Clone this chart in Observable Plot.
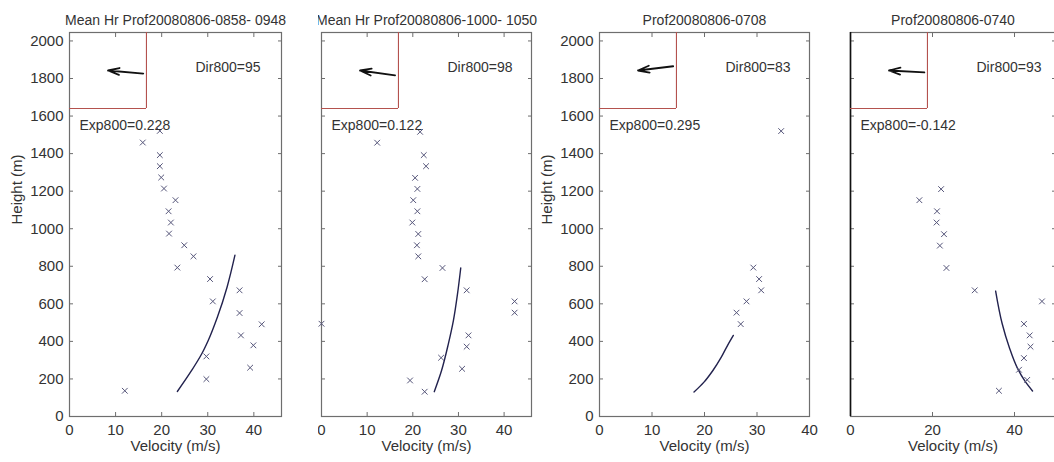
<!DOCTYPE html>
<html>
<head>
<meta charset="utf-8">
<script src="https://cdn.jsdelivr.net/npm/d3@7"></script>
<script src="https://cdn.jsdelivr.net/npm/@observablehq/plot@0.6"></script>
<style>
  html, body { margin: 0; padding: 0; background: #fff; overflow: hidden; }
  #chart { position: relative; width: 1054px; height: 462px; overflow: hidden; }
  #chart svg { position: absolute; top: 0; max-width: none; }
</style>
</head>
<body>
<div id="chart"></div>
<script>
// Profile titles, 800 m wind direction and power-law exponent for each panel
const titles = [
  "Mean Hr Prof20080806-0858- 0948",
  "Mean Hr Prof20080806-1000- 1050",
  "Prof20080806-0708",
  "Prof20080806-0740"
];
const dir800 = [95, 98, 83, 93];
const exp800 = ["0.228", "0.122", "0.295", "-0.142"];

// Measured velocity (m/s) at each range gate height (m)
const vel1 = [12.0, 29.7, 39.2, 29.7, 39.9, 37.2, 41.7, 36.9, 31.1, 36.9, 30.5, 23.4, 26.9, 24.9, 21.6, 22.0, 21.5, 23.0, 20.5, 19.9, 19.6, 19.6, 15.9, 19.6];
const hgt1 = [137, 199, 260, 320, 379, 432, 491, 551, 613, 672, 732, 793, 853, 912, 974, 1033, 1093, 1152, 1214, 1273, 1333, 1392, 1459, 1521];
const vel2 = [22.6, 19.4, 30.8, 26.2, 31.8, 32.2, 0, 42.3, 42.3, 31.8, 22.6, 26.5, 21.2, 20.9, 21.2, 19.9, 21.0, 20.1, 21.0, 20.5, 22.9, 22.4, 12.2, 21.6];
const hgt2 = [132, 192, 254, 313, 372, 432, 494, 553, 613, 672, 731, 791, 853, 912, 972, 1033, 1093, 1152, 1212, 1271, 1333, 1392, 1458, 1516];
const vel3 = [26.9, 26.1, 28.0, 30.8, 30.4, 29.3, 34.6];
const hgt3 = [492, 553, 613, 672, 732, 793, 1520];
const vel4 = [36.2, 43.1, 41.1, 42.3, 43.9, 43.7, 42.3, 46.7, 30.3, 23.4, 21.8, 22.8, 21.0, 21.1, 16.8, 22.1];
const hgt4 = [137, 195, 249, 311, 372, 432, 493, 613, 672, 791, 910, 971, 1033, 1093, 1152, 1211];

// Fitted power-law profiles
const fitVel1 = [23.4, 26.5, 28.7, 30.1, 32.1, 34.2, 35.9];
const fitHgt1 = [133, 245, 334, 405, 530, 690, 859];
const fitVel2 = [24.7, 26.3, 27.8, 28.9, 29.8, 30.5];
const fitHgt2 = [132, 245, 388, 512, 654, 791];
const fitVel3 = [18.0, 19.9, 21.6, 23.2, 24.4, 25.5];
const fitHgt3 = [130, 183, 245, 316, 379, 432];
const fitVel4 = [44.4, 42.6, 40.8, 38.7, 37.0, 35.4];
const fitHgt4 = [136, 187, 254, 370, 494, 668];

const yTicks = [0, 200, 400, 600, 800, 1000, 1200, 1400, 1600, 1800, 2000];

const obs = [[vel1, hgt1], [vel2, hgt2], [vel3, hgt3], [vel4, hgt4]];
const fits = [[fitVel1, fitHgt1], [fitVel2, fitHgt2], [fitVel3, fitHgt3], [fitVel4, fitHgt4]];

// Panel geometry
const layout = [
  {left: 0,   marginLeft: 69, marginRight: 10, frameW: 212, xMax: 46, xStep: 10, yText: true,  darkLeft: false},
  {left: 318, marginLeft: 3,  marginRight: 12, frameW: 210, xMax: 46, xStep: 10, yText: false, darkLeft: false},
  {left: 530, marginLeft: 69, marginRight: 10, frameW: 210, xMax: 40, xStep: 10, yText: true,  darkLeft: false},
  {left: 846, marginLeft: 4,  marginRight: 0,  frameW: 205, xMax: 50, xStep: 20, yText: false, darkLeft: true}
];

const FONT = "'Liberation Sans', Arial, Helvetica, sans-serif";
const TXT = "#333";
const AX = "#6e6e6e";
const FS = 15;
const H = 462, MT = 32, MB = 46, YMAX = 2045;
const chart = document.getElementById("chart");

layout.forEach((p, i) => {
  const pts = obs[i][0].map((v, j) => ({v, h: obs[i][1][j]}));
  const fit = fits[i][0].map((v, j) => ({v, h: fits[i][1][j]}));
  const xTicks = d3.range(0, p.xMax + 0.001, p.xStep);

  const svg = Plot.plot({
    width: p.marginLeft + p.frameW + p.marginRight,
    height: H,
    marginLeft: p.marginLeft,
    marginRight: p.marginRight,
    marginTop: MT,
    marginBottom: MB,
    style: {background: "transparent", fontFamily: FONT, fontSize: "14px", color: TXT},
    x: {domain: [0, p.xMax]},
    y: {domain: [0, YMAX]},
    marks: [
      Plot.axisX(xTicks, {anchor: "bottom", tickSize: -4, tickPadding: 12, tickFormat: "d", label: null, stroke: AX, fill: TXT, fontSize: FS}),
      Plot.axisX(xTicks, {anchor: "top", tickSize: -4, label: null, stroke: AX, fill: "none"}),
      Plot.axisY(yTicks, {anchor: "left", tickSize: -4, tickPadding: 10, tickFormat: "d", label: null, stroke: AX, fill: p.yText ? TXT : "none", fontSize: FS}),
      Plot.axisY(yTicks, {anchor: "right", tickSize: -4, label: null, stroke: AX, fill: "none"}),
      Plot.frame({stroke: AX, strokeWidth: 1.2}),
      p.darkLeft ? Plot.ruleX([0], {stroke: "#111", strokeWidth: 1.6}) : null,
      Plot.line(fit, {x: "v", y: "h", curve: "monotone-y", stroke: "#22224e", strokeWidth: 1.4}),
      Plot.dot(pts, {x: "v", y: "h", symbol: "times", r: 2.7, stroke: "#56567a", strokeWidth: 1}),
      Plot.text([titles[i]], {text: d => d, frameAnchor: "top", dy: -17, fill: TXT, fontSize: 14}),
      Plot.text(["Velocity (m/s)"], {text: d => d, frameAnchor: "bottom", dy: 34, fill: TXT, fontSize: FS}),
      p.yText ? Plot.text(["Height (m)"], {text: d => d, frameAnchor: "left", dx: -52, rotate: -90, fill: TXT, fontSize: FS}) : null,
      Plot.text([`Dir800=${dir800[i]}`], {text: d => d, frameAnchor: "top-left", dx: 126, dy: 30, textAnchor: "start", fill: TXT, fontSize: 14}),
      Plot.text([`Exp800=${exp800[i]}`], {text: d => d, frameAnchor: "top-left", dx: 10, dy: 88, textAnchor: "start", fill: TXT, fontSize: 14})
    ]
  });
  svg.style.left = p.left + "px";
  chart.appendChild(svg);

  // Direction inset: arrow points downwind, toward the inset centre
  const rad = dir800[i] * Math.PI / 180;
  const arrow = [{x1: 0.92 * Math.sin(rad), y1: 0.92 * Math.cos(rad), x2: 0, y2: 0}];
  const inset = Plot.plot({
    width: 78, height: 77,
    marginLeft: 0, marginTop: 0, marginRight: 1, marginBottom: 1,
    style: {background: "transparent"},
    x: {domain: [-1, 1], axis: null},
    y: {domain: [-1, 1], axis: null},
    marks: [
      Plot.ruleX([1], {stroke: "#b4524e", strokeWidth: 1.2}),
      Plot.ruleY([-1], {stroke: "#b4524e", strokeWidth: 1.2}),
      Plot.arrow(arrow, {x1: "x1", y1: "y1", x2: "x2", y2: "y2", stroke: "#111", strokeWidth: 1.8, headLength: 10, headAngle: 34})
    ]
  });
  inset.style.left = (p.left + p.marginLeft) + "px";
  inset.style.top = MT + "px";
  chart.appendChild(inset);
});
</script>
</body>
</html>
